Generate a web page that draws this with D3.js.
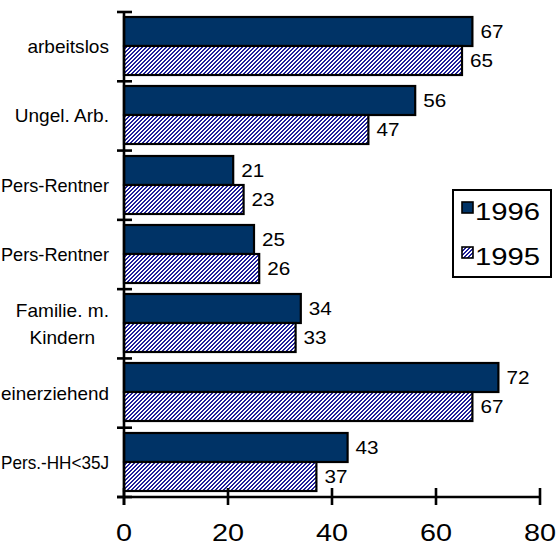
<!DOCTYPE html>
<html>
<head>
<meta charset="utf-8">
<script src="https://cdn.jsdelivr.net/npm/d3@7"></script>
<style>
  html, body { margin: 0; padding: 0; background: #fff; }
  svg { display: block; font-family: "Liberation Sans", Arial, sans-serif; }
</style>
</head>
<body>
<svg id="chart" width="556" height="546"></svg>
<script>
// Household groups (top to bottom); "\n" breaks a label into lines
const categories = ["arbeitslos", "Ungel. Arb.", "Pers-Rentner", "Pers-Rentner",
                    "Familie. m.\nKindern", "einerziehend", "Pers.-HH<35J"];
const seriesNames = ["1996", "1995"];
const values1996 = [67, 56, 21, 25, 34, 72, 43];
const values1995 = [65, 47, 23, 26, 33, 67, 37];
const xTicks = [0, 20, 40, 60, 80];

const svg = d3.select("#chart");
const navy = "#003366";
const hatchColor = "#1f1f9a";

// Upward diagonal hatch (pixel stripes) used for the 1995 bars
const defs = svg.append("defs");
const pat = defs.append("pattern")
  .attr("id", "hatch")
  .attr("patternUnits", "userSpaceOnUse")
  .attr("width", 4).attr("height", 4);
pat.append("rect").attr("width", 4).attr("height", 4).attr("fill", "#fff");
const cells = [];
for (let py = 0; py < 4; py++) for (let px = 0; px < 4; px++) if ((px + py) % 4 < 2) cells.push([px, py]);
pat.selectAll("rect.c").data(cells).join("rect").attr("class", "c")
  .attr("x", d => d[0]).attr("y", d => d[1]).attr("width", 1).attr("height", 1)
  .attr("fill", hatchColor).attr("shape-rendering", "crispEdges");

const fills = { "1996": navy, "1995": "url(#hatch)" };

const x = d3.scaleLinear().domain([0, 80]).range([124, 540]);
const y = d3.scaleBand().domain(d3.range(categories.length)).range([12, 497]);
const ys = d3.scaleBand().domain(seriesNames).range([5, 63]);

// Text helper: slightly widened glyphs
function label(g, txt, px, py, size, anchor, sx) {
  return g.append("text")
    .attr("transform", `translate(${px},${py}) scale(${sx},1)`)
    .attr("font-size", size)
    .attr("text-anchor", anchor)
    .attr("fill", "#000")
    .text(txt);
}

const rows = categories.map((c, i) => ({
  i, cat: c, vals: [{ s: "1996", v: values1996[i] }, { s: "1995", v: values1995[i] }]
}));
const bars = rows.flatMap(r => r.vals.map(e => ({ i: r.i, s: e.s, v: e.v })));

// Bars in root coordinates so the hatch stays on the pixel grid
svg.append("g").selectAll("rect").data(bars).join("rect")
  .attr("x", x(0))
  .attr("y", d => Math.round(y(d.i) + ys(d.s)))
  .attr("width", d => x(d.v) - x(0))
  .attr("height", ys.bandwidth())
  .attr("fill", d => fills[d.s])
  .attr("stroke", "#000")
  .attr("stroke-width", 2.2);

// Value labels to the right of each bar
const valG = svg.append("g");
bars.forEach(d => {
  label(valG, d.v, x(d.v) + 8, y(d.i) + ys(d.s) + ys.bandwidth() / 2 + 6.5, 18, "start", 1.15);
});

// Category labels: single lines right-aligned, multi-line blocks centred;
// long labels are narrowed so they stay inside the left edge
const labelRight = 109;
const baseScale = 1.06;
const catG = svg.append("g");
rows.forEach(d => {
  const lines = d.cat.split("\n");
  const lh = 26.7;
  const mid = y(d.i) + y.bandwidth() / 2;
  const first = mid - (lines.length - 1) * lh / 2 + 6.5;
  const tmp = lines.map(t => label(catG, t, 0, 0, 18, "start", 1));
  const widths = tmp.map(t => t.node().getBBox().width);
  tmp.forEach(t => t.remove());
  const wMax = d3.max(widths);
  const sx = Math.min(baseScale, (labelRight - 1) / wMax);
  if (lines.length === 1) {
    label(catG, lines[0], labelRight, first, 18, "end", sx);
  } else {
    const cx = labelRight - wMax * sx / 2;
    lines.forEach((t, k) => label(catG, t, cx, first + k * lh, 18, "middle", sx));
  }
});

// Axes
const axisG = svg.append("g").attr("stroke", "#000").attr("stroke-width", 2.6);
axisG.append("line").attr("x1", x(0)).attr("x2", x(0)).attr("y1", 12).attr("y2", 505);
axisG.append("line").attr("x1", 117).attr("x2", x(80)).attr("y1", 497).attr("y2", 497);
axisG.selectAll(".yt").data(d3.range(categories.length + 1)).join("line")
  .attr("x1", 117).attr("x2", 132)
  .attr("y1", i => i < categories.length ? y(i) : y(categories.length - 1) + y.step())
  .attr("y2", i => i < categories.length ? y(i) : y(categories.length - 1) + y.step());
axisG.selectAll(".xt").data(xTicks).join("line")
  .attr("x1", d => x(d)).attr("x2", d => x(d))
  .attr("y1", 488).attr("y2", 505);

const tickG = svg.append("g");
xTicks.forEach(t => label(tickG, t, x(t), 541, 24, "middle", 1.2));

// Legend
const lg = svg.append("g");
lg.append("rect").attr("x", 453).attr("y", 190).attr("width", 98).attr("height", 87)
  .attr("fill", "#fff").attr("stroke", "#000").attr("stroke-width", 2);
seriesNames.forEach((s, k) => {
  const yy = 202 + k * 45;
  lg.append("rect").attr("x", 462).attr("y", yy).attr("width", 11).attr("height", 11)
    .attr("fill", fills[s]).attr("stroke", "#000").attr("stroke-width", 1.6);
  label(lg, s, 475, yy + 18, 24, "start", 1.22);
});
</script>
</body>
</html>
